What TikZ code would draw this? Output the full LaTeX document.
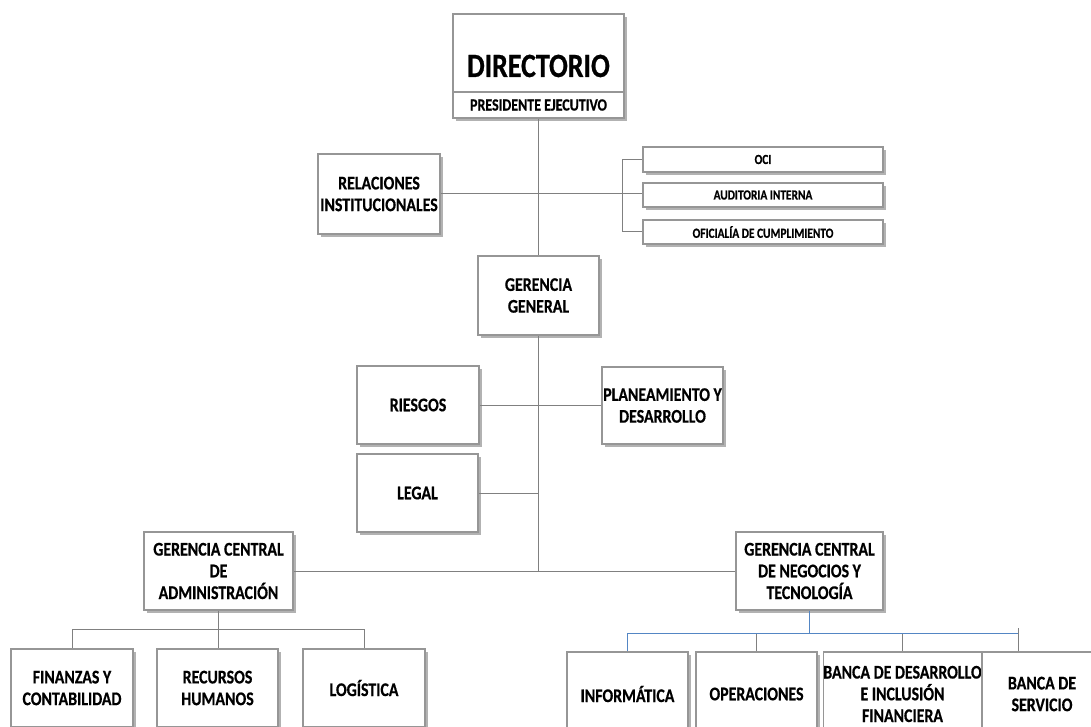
\documentclass[tikz,border=0pt]{standalone}
\usepackage{fontspec}
\setmainfont{Carlito}[FakeStretch=0.82, BoldFeatures={FakeBold=0.6}]
\usepackage{tikz}
\usetikzlibrary{shadows}

\definecolor{lineGray}{RGB}{128,128,128}
\definecolor{boxGray}{RGB}{150,150,150}
\definecolor{busBlue}{RGB}{84,134,196}

\begin{document}
\begin{tikzpicture}[
    x=0.75pt, y=-0.75pt,
    every node/.style={font=\bfseries\fontsize{14.5}{16.3}\selectfont},
    unit/.style={draw=boxGray, fill=white, line width=0.9pt, align=center, inner sep=0pt,
        drop shadow={shadow xshift=2.2pt, shadow yshift=-2.2pt, opacity=0.55, fill=black!55}},
    wh/.style 2 args={minimum width=#1*0.75pt, minimum height=#2*0.75pt},
    small/.style={font=\bfseries\fontsize{10.4}{12}\selectfont},
    link/.style={draw=lineGray, line width=0.75pt},
    buslink/.style={draw=busBlue, line width=0.9pt}
]

\path[use as bounding box, clip] (0,0) rectangle (1091,727);

% Directorio
\node[unit, wh={171}{78}, text height=47.25pt, text depth=11.25pt,
    font=\bfseries\fontsize{25.5}{28}\selectfont] (dir) at (538.5,53) {DIRECTORIO};
\node[unit, wh={171}{26}, font=\bfseries\fontsize{12.8}{14}\selectfont] (pres) at (538.5,105) {PRESIDENTE EJECUTIVO};

% Staff units
\node[unit, wh={122}{80}] (rel) at (379,194) {RELACIONES\\INSTITUCIONALES};
\node[unit, small, wh={240}{25}] (oci) at (763,159.5) {OCI};
\node[unit, small, wh={240}{24}] (aud) at (763,195) {AUDITORIA INTERNA};
\node[unit, small, wh={240}{24}] (ofi) at (763,232) {OFICIALÍA DE CUMPLIMIENTO};

% Gerencia general and its units
\node[unit, wh={121}{79}] (gg) at (538.5,295.5) {GERENCIA\\GENERAL};
\node[unit, wh={122}{78}] (ries) at (418,405) {RIESGOS};
\node[unit, wh={121}{77}] (plan) at (662.5,405.5) {PLANEAMIENTO Y\\DESARROLLO};
\node[unit, wh={121}{78}] (legal) at (417.5,493) {LEGAL};

% Gerencias centrales
\node[unit, wh={149}{78}] (gca) at (218.5,571) {GERENCIA CENTRAL\\DE\\ADMINISTRACIÓN};
\node[unit, wh={147}{78}] (gcn) at (809.5,571) {GERENCIA CENTRAL\\DE NEGOCIOS Y\\TECNOLOGÍA};

% Administracion
\node[unit, wh={122}{78}] (fin) at (72,688) {FINANZAS Y\\CONTABILIDAD};
\node[unit, wh={121}{78}] (rec) at (217.5,688) {RECURSOS\\HUMANOS};
\node[unit, wh={122}{78}] (log) at (364,688) {LOGÍSTICA};

% Negocios y tecnologia
\node[unit, wh={121}{84}] (inf) at (627.5,694) {INFORMÁTICA};
\node[unit, wh={121}{84}] (ope) at (756.5,694) {OPERACIONES};
\node[unit, wh={147}{84}] (bde) at (902.5,694) {BANCA DE DESARROLLO\\E INCLUSIÓN\\FINANCIERA};
\node[unit, wh={120}{84}] (bse) at (1042,694) {BANCA DE\\SERVICIO};

% Main line
\draw[link] (pres.south) -- (gg.north);
\draw[link] (gg.south) -- (gg.south |- gca.east);
\draw[link] (gca.east) -- (gcn.west);

% Staff lines
\draw[link] (rel.east) -- (rel.east -| aud.west);
\draw[link] (oci.west) -- ++(-20,0) |- (ofi.west);
\draw[link] (ries.east) -- (ries.east -| plan.west);
\draw[link] (legal.east) -- (legal.east -| gg.south);

% Administracion bus
\draw[link] (gca.south) -- ++(0,19) coordinate (abus);
\draw[link] (fin.north) -- (fin.north |- abus) -- (log.north |- abus) -- (log.north);
\draw[link] (abus) -- (abus |- rec.north);

% Negocios bus
\coordinate (stop) at (1018,628);
\draw[buslink] (gcn.south) -- ++(0,23) coordinate (nbus);
\draw[link] (ope.north |- nbus) -- (ope.north);
\draw[link] (bde.north |- nbus) -- (bde.north);
\draw[link] (stop) -- (stop |- bse.north);
\draw[buslink] (inf.north) -- (inf.north |- nbus) -- (nbus -| stop);

\end{tikzpicture}
\end{document}
